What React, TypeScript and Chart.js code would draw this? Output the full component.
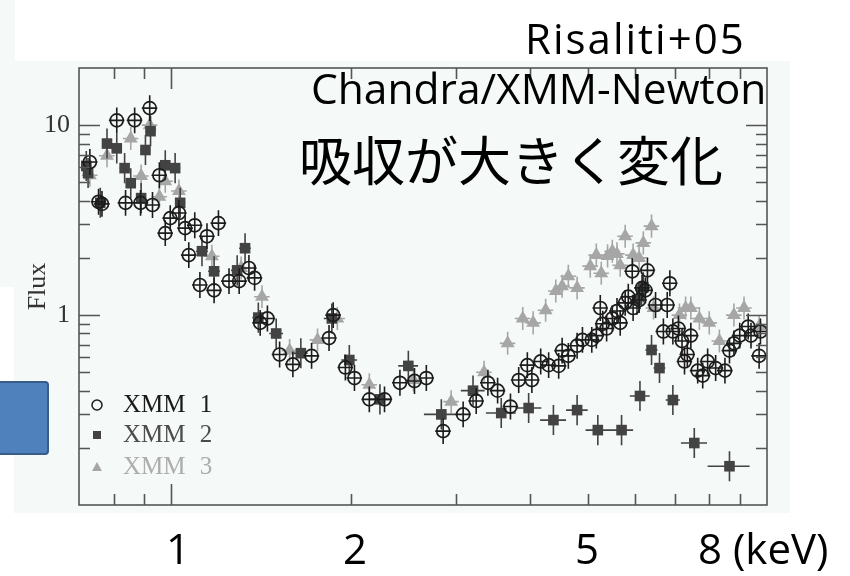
import React, { useEffect, useRef } from "react";
import { Chart, registerables } from "chart.js";

Chart.register(...registerables);

// Axis ranges and tick values
const energyRange = [0.71, 10];
const fluxRange = [0.1, 20];
const energyTicks = [0.8, 0.9, 1, 2, 3, 4, 5, 6, 7, 8, 9];
const energyMajorTicks = [1];
const fluxTicks = [0.2, 0.3, 0.4, 0.5, 0.6, 0.7, 0.8, 0.9, 1, 2, 3, 4, 5, 6, 7, 8, 9, 10];
const fluxMajorTicks = [1, 10];
const fluxTickLabels = [1, 10];

// XMM 1 (open circles)
const xmm1Energy = [
  0.73, 0.755, 0.765, 0.81, 0.838, 0.868, 0.888, 0.92, 0.93, 0.955, 0.977, 0.996, 1.03, 1.055, 1.07, 1.095,
  1.117, 1.148, 1.18, 1.2, 1.25, 1.3, 1.35, 1.38, 1.41, 1.45, 1.52, 1.6, 1.72, 1.84, 1.87, 1.96, 2.03, 2.15,
  2.28, 2.42, 2.56, 2.68, 2.86, 3.09, 3.25, 3.4, 3.53, 3.71, 3.83, 3.96, 4.03, 4.17, 4.3, 4.47, 4.53, 4.64,
  4.8, 4.9, 5.08, 5.17, 5.25, 5.3, 5.38, 5.5, 5.6, 5.67, 5.78, 5.85, 5.94, 5.96, 6.1, 6.17, 6.25, 6.3, 6.5,
  6.7, 6.8, 6.87, 6.95, 7.1, 7.2, 7.27, 7.35, 7.45, 7.65, 7.8, 7.95, 8.2, 8.5, 8.65, 8.8, 9.0, 9.3, 9.4, 9.7,
  9.75,
];
const xmm1Flux = [
  6.4, 3.95, 3.85, 10.6, 3.9, 10.6, 3.9, 12.3, 3.8, 5.45, 2.7, 3.24, 3.45, 2.87, 2.07, 2.97,
  1.44, 2.6, 1.35, 3.05, 1.51, 1.51, 1.77, 1.57, 0.91, 0.96, 0.62, 0.55, 0.61, 0.757, 1.0, 0.53, 0.466, 0.36,
  0.36, 0.44, 0.45, 0.466, 0.245, 0.3, 0.353, 0.44, 0.4, 0.33, 0.455, 0.545, 0.455, 0.57, 0.545, 0.54, 0.65, 0.61,
  0.69, 0.74, 0.74, 0.78, 1.09, 0.9, 0.85, 0.96, 1.05, 0.91, 1.16, 1.25, 1.7, 1.09, 1.2, 1.39, 1.35, 1.72, 1.13,
  0.82, 1.13, 1.47, 0.82, 0.85, 0.73, 0.57, 0.62, 0.78, 0.51, 0.48, 0.57, 0.526, 0.51, 0.65, 0.71, 0.78, 0.87, 0.78, 0.61,
  0.82,
];
const xmm1EnergyErr = 0.03; // fractional half-width of the energy bins
const xmm1FluxErr = 0.17; // fractional flux uncertainty

// XMM 2 (filled squares)
const xmm2Energy = [
  0.72, 0.725, 0.76, 0.78, 0.81, 0.835, 0.855, 0.89, 0.905, 0.923, 0.977, 1.015, 1.035, 1.126, 1.18, 1.29,
  1.33, 1.4, 1.5, 1.65, 1.86, 1.99, 2.24, 2.5, 2.84, 3.21, 3.58, 3.98, 4.38, 4.8, 5.2, 5.7, 6.05, 6.12, 6.2,
  6.4, 6.6, 6.95, 7.55, 8.65,
];
const xmm2Flux = [
  6.1, 5.6, 3.9, 8.0, 7.55, 5.94, 4.95, 4.13, 7.4, 9.3, 6.15, 5.94, 3.9, 2.17, 1.7, 1.72,
  2.25, 0.97, 0.8, 0.63, 0.96, 0.58, 0.36, 0.54, 0.3, 0.4, 0.305, 0.324, 0.28, 0.316, 0.248, 0.248, 1.2, 0.375, 1.4,
  0.655, 0.526, 0.357, 0.212, 0.16,
];
const xmm2EnergyHalfWidth = [
  0.014, 0.014, 0.015, 0.015, 0.016, 0.016, 0.016, 0.017, 0.017, 0.018, 0.019, 0.02, 0.02, 0.026, 0.027, 0.03,
  0.03, 0.032, 0.04, 0.044, 0.057, 0.061, 0.086, 0.096, 0.185, 0.148, 0.206, 0.2, 0.219, 0.2, 0.24, 0.26, 0.12, 0.235, 0.12,
  0.15, 0.15, 0.19, 0.38, 0.7,
];
const xmm2FluxErr = 0.2;

// XMM 3 (grey triangles)
const xmm3Energy = [
  0.73, 0.78, 0.855, 0.89, 0.92, 0.955, 0.977, 1.03, 1.17, 1.31, 1.42, 1.58, 1.76, 1.9, 2.15, 2.55, 2.95,
  3.35, 3.67, 3.89, 4.05, 4.25, 4.42, 4.53, 4.64, 4.8, 5.05, 5.17, 5.27, 5.4, 5.5, 5.6, 5.67, 5.78, 5.96, 6.1,
  6.2, 6.4, 6.45, 7.13, 7.3, 7.45, 7.7, 8.0, 8.32, 8.8, 9.15, 9.7,
];
const xmm3Flux = [
  5.45, 6.9, 8.5, 5.4, 10.0, 4.2, 5.07, 4.5, 2.04, 1.77, 1.25, 0.65, 0.74, 0.96, 0.43, 0.455, 0.35,
  0.5, 0.71, 0.96, 0.91, 1.06, 1.34, 1.42, 1.6, 1.39, 1.81, 2.07, 1.66, 2.05, 2.17, 2.1, 1.83, 2.6, 2.07, 2.0,
  2.4, 2.94, 1.09, 1.0, 1.09, 1.09, 0.96, 0.91, 0.73, 1.0, 1.09, 0.87,
];
const xmm3EnergyErr = 0.03;
const xmm3FluxErr = 0.15;

const seriesLabels = ["XMM 1", "XMM 2", "XMM 3"];
const seriesColors = ["#1c1c1c", "#434343", "#a6a6a6"];
const legendTextColors = ["#1a1a1a", "#4c4c4c", "#adadad"];

type Bar = { x: number; y: number; xLo: number; xHi: number; yLo: number; yHi: number };

function buildBars(energy: number[], flux: number[], xHalf: (i: number) => number, fErr: number): Bar[] {
  return energy.map((e, i) => ({
    x: e,
    y: flux[i],
    xLo: e - xHalf(i),
    xHi: e + xHalf(i),
    yLo: flux[i] / (1 + fErr),
    yHi: flux[i] * (1 + fErr),
  }));
}

const xmm1Bars = buildBars(xmm1Energy, xmm1Flux, (i) => xmm1Energy[i] * xmm1EnergyErr, xmm1FluxErr);
const xmm2Bars = buildBars(xmm2Energy, xmm2Flux, (i) => xmm2EnergyHalfWidth[i], xmm2FluxErr);
const xmm3Bars = buildBars(xmm3Energy, xmm3Flux, (i) => xmm3Energy[i] * xmm3EnergyErr, xmm3FluxErr);

// Error crosses drawn underneath each dataset's markers
const errorBarPlugin = {
  id: "errorBars",
  beforeDatasetDraw(chart: any, args: any) {
    const ds = chart.data.datasets[args.index];
    const bars: Bar[] | undefined = ds.errorBars;
    if (!bars) return;
    const { ctx, chartArea: a } = chart;
    const xs = chart.scales.x;
    const ys = chart.scales.y;
    ctx.save();
    ctx.beginPath();
    ctx.rect(a.left, a.top, a.right - a.left, a.bottom - a.top);
    ctx.clip();
    ctx.strokeStyle = ds.errorColor;
    ctx.lineWidth = 1.6;
    ctx.beginPath();
    for (const b of bars) {
      const px = xs.getPixelForValue(b.x);
      const py = ys.getPixelForValue(b.y);
      ctx.moveTo(xs.getPixelForValue(b.xLo), py);
      ctx.lineTo(xs.getPixelForValue(b.xHi), py);
      ctx.moveTo(px, ys.getPixelForValue(b.yLo));
      ctx.lineTo(px, ys.getPixelForValue(b.yHi));
    }
    ctx.stroke();
    ctx.restore();
  },
};

// Boxed frame with inward ticks on all four sides
const framePlugin = {
  id: "frameTicks",
  afterDatasetsDraw(chart: any) {
    const { ctx, chartArea: a } = chart;
    const xs = chart.scales.x;
    const ys = chart.scales.y;
    ctx.save();
    ctx.strokeStyle = "#555";
    ctx.lineWidth = 1.6;
    ctx.strokeRect(a.left, a.top, a.right - a.left, a.bottom - a.top);
    ctx.beginPath();
    for (const v of energyTicks) {
      const px = Math.round(xs.getPixelForValue(v)) + 0.5;
      const len = energyMajorTicks.includes(v) ? 21 : 11;
      ctx.moveTo(px, a.bottom);
      ctx.lineTo(px, a.bottom - len);
      ctx.moveTo(px, a.top);
      ctx.lineTo(px, a.top + len);
    }
    for (const v of fluxTicks) {
      const py = Math.round(ys.getPixelForValue(v)) + 0.5;
      const len = fluxMajorTicks.includes(v) ? 21 : 11;
      ctx.moveTo(a.left, py);
      ctx.lineTo(a.left + len, py);
      ctx.moveTo(a.right, py);
      ctx.lineTo(a.right - len, py);
    }
    ctx.stroke();
    ctx.restore();
  },
};

// Legend placed inside the lower-left corner of the frame
const insetLegendPlugin = {
  id: "insetLegend",
  afterDraw(chart: any) {
    const { ctx, chartArea: a } = chart;
    const x0 = a.left + 18;
    const rows = [a.bottom - 100, a.bottom - 70, a.bottom - 38];
    chart.data.datasets.forEach((ds: any, i: number) => {
      const y = rows[i];
      ctx.save();
      if (ds.pointStyle === "circle") {
        ctx.beginPath();
        ctx.arc(x0, y, 5, 0, Math.PI * 2);
        ctx.strokeStyle = ds.pointBorderColor;
        ctx.lineWidth = 1.5;
        ctx.stroke();
      } else if (ds.pointStyle === "rect") {
        ctx.fillStyle = ds.pointBackgroundColor;
        ctx.fillRect(x0 - 4, y - 4, 8, 8);
      } else {
        ctx.fillStyle = ds.pointBackgroundColor;
        ctx.beginPath();
        ctx.moveTo(x0, y - 5);
        ctx.lineTo(x0 + 5, y + 4);
        ctx.lineTo(x0 - 5, y + 4);
        ctx.closePath();
        ctx.fill();
      }
      ctx.font = '25px "Liberation Serif"';
      ctx.fillStyle = ds.legendColor;
      ctx.textBaseline = "middle";
      (ctx as any).wordSpacing = "8px";
      ctx.fillText(ds.label, x0 + 26, y);
      ctx.restore();
    });
  },
};

export default function App() {
  const canvasRef = useRef<HTMLCanvasElement>(null);

  useEffect(() => {
    if (!canvasRef.current) return;
    const toPoints = (e: number[], f: number[]) => e.map((v, i) => ({ x: v, y: f[i] }));
    const chart = new Chart(canvasRef.current, {
      type: "scatter",
      data: {
        datasets: [
          {
            label: seriesLabels[0],
            data: toPoints(xmm1Energy, xmm1Flux),
            pointStyle: "circle",
            pointRadius: 6.5,
            pointHoverRadius: 6.5,
            pointBorderWidth: 1.7,
            pointBorderColor: seriesColors[0],
            pointBackgroundColor: "rgba(0,0,0,0)",
            errorBars: xmm1Bars,
            errorColor: seriesColors[0],
            legendColor: legendTextColors[0],
          } as any,
          {
            label: seriesLabels[1],
            data: toPoints(xmm2Energy, xmm2Flux),
            pointStyle: "rect",
            pointRadius: 7.5,
            pointHoverRadius: 7.5,
            pointBorderWidth: 0,
            pointBorderColor: seriesColors[1],
            pointBackgroundColor: seriesColors[1],
            errorBars: xmm2Bars,
            errorColor: seriesColors[1],
            legendColor: legendTextColors[1],
          } as any,
          {
            label: seriesLabels[2],
            data: toPoints(xmm3Energy, xmm3Flux),
            pointStyle: "triangle",
            pointRadius: 8,
            pointHoverRadius: 8,
            pointBorderWidth: 0,
            pointBorderColor: seriesColors[2],
            pointBackgroundColor: seriesColors[2],
            errorBars: xmm3Bars,
            errorColor: seriesColors[2],
            legendColor: legendTextColors[2],
          } as any,
        ],
      },
      options: {
        responsive: false,
        maintainAspectRatio: false,
        animation: false,
        events: [],
        layout: { padding: { left: 0, right: 83, top: 68, bottom: 71 } },
        plugins: {
          legend: { display: false },
          tooltip: { enabled: false },
          title: { display: false },
        },
        scales: {
          x: {
            type: "logarithmic",
            min: energyRange[0],
            max: energyRange[1],
            display: false,
            afterBuildTicks: (s: any) => {
              s.ticks = energyTicks.map((v) => ({ value: v }));
            },
          },
          y: {
            type: "logarithmic",
            position: "left",
            min: fluxRange[0],
            max: fluxRange[1],
            afterBuildTicks: (s: any) => {
              s.ticks = fluxTicks.map((v) => ({ value: v }));
            },
            afterFit: (s: any) => {
              s.width = 79;
            },
            grid: { display: false, drawTicks: false },
            border: { display: false },
            ticks: {
              autoSkip: false,
              padding: 9,
              color: "#333333",
              font: { family: "Liberation Serif", size: 26 },
              callback: (v: any) => (fluxTickLabels.includes(Number(v)) ? String(v) : ""),
            },
            title: {
              display: true,
              text: "Flux",
              color: "#333333",
              font: { family: "Liberation Serif", size: 26 },
              padding: { top: 23, bottom: 0 },
            },
          },
        },
      },
      plugins: [errorBarPlugin, framePlugin, insetLegendPlugin],
    } as any);
    return () => chart.destroy();
  }, []);

  const slideText: React.CSSProperties = {
    position: "absolute",
    fontFamily: '"Open Sans", "Noto Sans", sans-serif',
    fontSize: 42,
    lineHeight: 1,
    color: "#000",
    whiteSpace: "nowrap",
  };

  return (
    <div
      style={{
        position: "absolute",
        left: 0,
        top: 0,
        width: 850,
        height: 576,
        background: "#ffffff",
        overflow: "hidden",
      }}
    >
      <div style={{ position: "absolute", left: 0, top: 0, width: 790, height: 513, background: "#f5f9f7" }} />
      <div style={{ position: "absolute", left: 15, top: 0, width: 835, height: 61, background: "#ffffff" }} />
      <div style={{ position: "absolute", left: 0, top: 287, width: 14, height: 289, background: "#ffffff" }} />
      <canvas
        ref={canvasRef}
        width={850}
        height={576}
        style={{ position: "absolute", left: 0, top: 0, width: 850, height: 576, filter: "blur(0.6px)" }}
      />
      <div
        style={{
          position: "absolute",
          left: -12,
          top: 381,
          width: 57,
          height: 70,
          background: "#4f81bd",
          border: "2px solid #385d8a",
          borderRadius: 4,
        }}
      />
      <div style={{ ...slideText, left: 525, top: 17, letterSpacing: 2 }}>Risaliti+05</div>
      <div style={{ ...slideText, left: 311, top: 67, fontSize: 42.5 }}>Chandra/XMM-Newton</div>
      <div
        style={{
          ...slideText,
          fontFamily: '"Noto Sans CJK JP", sans-serif',
          fontSize: 53,
          left: 299,
          top: 132,
        }}
      >
        吸収が大きく変化
      </div>
      <div style={{ ...slideText, left: 178, top: 527, transform: "translateX(-50%)" }}>1</div>
      <div style={{ ...slideText, left: 355, top: 527, transform: "translateX(-50%)" }}>2</div>
      <div style={{ ...slideText, left: 587, top: 527, transform: "translateX(-50%)" }}>5</div>
      <div style={{ ...slideText, left: 698, top: 527 }}>8 (keV)</div>
    </div>
  );
}
